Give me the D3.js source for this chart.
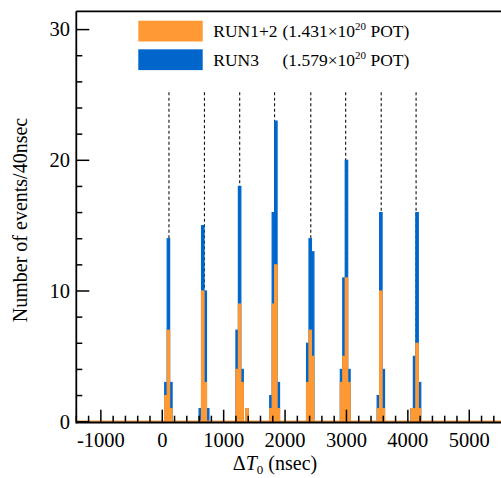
<!DOCTYPE html>
<html>
<head>
<meta charset="utf-8">
<script src="https://cdn.jsdelivr.net/npm/d3@7"></script>
<style>
  html, body { margin: 0; padding: 0; background: #fff; }
  svg { display: block; }
  text { font-family: "Liberation Serif", "Times New Roman", serif; fill: #000; }
</style>
</head>
<body>
<svg id="chart" width="501" height="478"></svg>
<script>
// ---- data ----
const bunchStarts  = [40, 600, 1200, 1750, 2350, 2900, 3500, 4050];   // first bin start of each bunch (ns)
const binWidth     = 40;                                               // ns per bin
const run12Counts  = [[2,7,1],[0,10,3,0],[4,9,3,0,1],[1,9,12,1],[3,7,5],[3,5,11,3],[1,10,1],[1,1,6,1]];
const run3Counts   = [[1,7,2],[1,5,7,1],[3,9,1,0,0],[1,7,11,2],[3,7,8],[1,6,9,1],[1,6,3],[0,4,10,2]];
const bunchCenters = [109, 687, 1261, 1829, 2419, 2987, 3566, 4134];  // dashed lines (ns)
const dashTop      = 25.2;
const xTicks       = [-1000, 0, 1000, 2000, 3000, 4000, 5000];
const yTicks       = [0, 10, 20, 30];
const legendLabels = ["RUN1+2", "RUN3"];
const legendPOT    = ["1.431", "1.579"];
const colors       = { run12: "#FF9933", run3: "#0066CC" };

// ---- build bins ----
const bins = [];
bunchStarts.forEach((s, b) => {
  run12Counts[b].forEach((c12, i) => {
    bins.push({ x0: s + i * binWidth, x1: s + (i + 1) * binWidth, run12: c12, total: c12 + run3Counts[b][i] });
  });
});

const svg = d3.select("#chart");
const x = d3.scaleLinear().domain([-1400, 5600]).range([76.3, 506.1]);
const y = d3.scaleLinear().domain([0, 31.4]).range([421.7, 11.3]);

// dashed bunch lines
svg.append("g").selectAll("line").data(bunchCenters).join("line")
  .attr("x1", d => x(d)).attr("x2", d => x(d))
  .attr("y1", y(dashTop)).attr("y2", y(0))
  .attr("stroke", "#111").attr("stroke-width", 1.1).attr("stroke-dasharray", "3,2.5");

// blue (total) bars
svg.append("g").selectAll("rect").data(bins.filter(d => d.total > 0)).join("rect")
  .attr("x", d => x(d.x0)).attr("width", d => x(d.x1) - x(d.x0))
  .attr("y", d => y(d.total)).attr("height", d => y(0) - y(d.total))
  .attr("fill", colors.run3).attr("stroke", colors.run3).attr("stroke-width", 1.2);

// orange (RUN1+2) bars
svg.append("g").selectAll("rect").data(bins.filter(d => d.run12 > 0)).join("rect")
  .attr("x", d => x(d.x0)).attr("width", d => x(d.x1) - x(d.x0))
  .attr("y", d => y(d.run12)).attr("height", d => y(0) - y(d.run12))
  .attr("fill", colors.run12).attr("stroke", colors.run12).attr("stroke-width", 1.2);

// orange zero line of histogram
svg.append("line").attr("x1", x(-1400)).attr("x2", x(5600))
  .attr("y1", y(0) - 0.5).attr("y2", y(0) - 0.5)
  .attr("stroke", colors.run12).attr("stroke-width", 1.2);

// frame: left, bottom, top
const x0px = x(-1400), x1px = x(5600), y0px = y(0), y1px = y(31.4);
svg.append("line").attr("x1", x0px).attr("x2", x1px).attr("y1", y0px + 0.8).attr("y2", y0px + 0.8)
  .attr("stroke", "#000").attr("stroke-width", 1.8);
svg.append("line").attr("x1", x0px).attr("x2", x0px).attr("y1", y1px).attr("y2", y0px + 1.7)
  .attr("stroke", "#000").attr("stroke-width", 1.8);
svg.append("line").attr("x1", x0px).attr("x2", x1px).attr("y1", y1px).attr("y2", y1px)
  .attr("stroke", "#000").attr("stroke-width", 1.8);

// x ticks (inside)
const xMinor = d3.range(-1400, 5601, 200);
svg.append("g").selectAll("line").data(xMinor).join("line")
  .attr("x1", d => x(d)).attr("x2", d => x(d))
  .attr("y1", y0px).attr("y2", d => y0px - (d % 1000 === 0 ? 12 : 6))
  .attr("stroke", "#000").attr("stroke-width", 1.5);
svg.append("g").selectAll("text").data(xTicks).join("text")
  .attr("x", d => x(d)).attr("y", 446.5).attr("text-anchor", "middle")
  .attr("font-size", 20.5).text(d => d);

// y ticks (inside)
const yMinor = d3.range(0, 31, 2);
svg.append("g").selectAll("line").data(yMinor).join("line")
  .attr("x1", x0px).attr("x2", d => x0px + (d % 10 === 0 ? 13 : 6))
  .attr("y1", d => y(d)).attr("y2", d => y(d))
  .attr("stroke", "#000").attr("stroke-width", 1.5);
svg.append("g").selectAll("text").data(yTicks).join("text")
  .attr("x", 70).attr("y", d => y(d) + 6.8).attr("text-anchor", "end")
  .attr("font-size", 20.5).text(d => d);

// axis titles
const xt = svg.append("text").attr("x", 275).attr("y", 469.5).attr("text-anchor", "middle").attr("font-size", 20);
xt.append("tspan").text("Δ");
xt.append("tspan").attr("font-style", "italic").text("T");
xt.append("tspan").attr("font-size", 13).attr("dy", 4).text("0");
xt.append("tspan").attr("dy", -4).text(" (nsec)");

svg.append("text").attr("transform", "translate(27,220) rotate(-90)")
  .attr("text-anchor", "middle").attr("font-size", 20).text("Number of events/40nsec");

// legend
const legY = [20.7, 49.3];
const legC = [colors.run12, colors.run3];
legendLabels.forEach((lab, i) => {
  svg.append("rect").attr("x", 138.3).attr("y", legY[i]).attr("width", 64.4).attr("height", 20.8)
    .attr("fill", legC[i]);
  svg.append("text").attr("x", 213.3).attr("y", legY[i] + 16.3).attr("font-size", 17.5).text(lab);
  const t = svg.append("text").attr("x", 282.5).attr("y", legY[i] + 16.3).attr("font-size", 17.5);
  t.append("tspan").text("(" + legendPOT[i] + "×10");
  t.append("tspan").attr("font-size", 11).attr("dy", -7).text("20");
  t.append("tspan").attr("dy", 7).text(" POT)");
});
</script>
</body>
</html>
